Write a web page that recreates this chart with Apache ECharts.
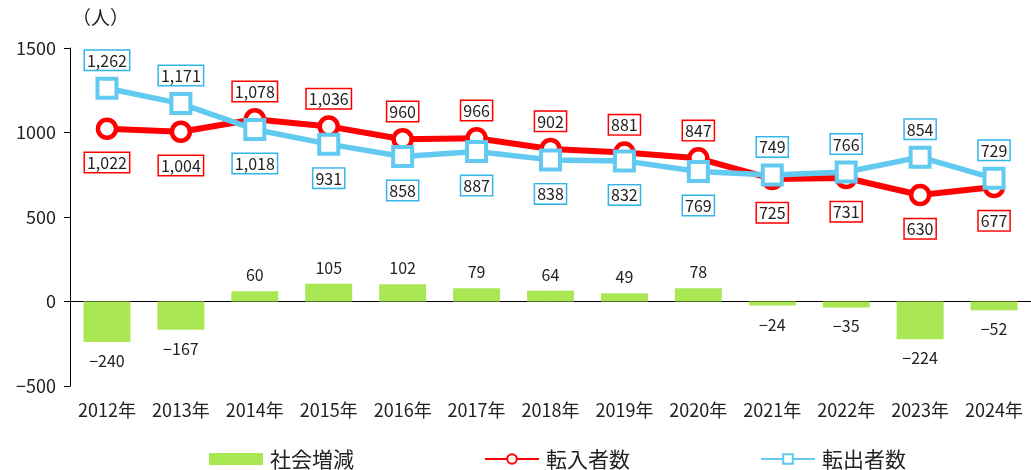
<!DOCTYPE html>
<html style="height: 100%">
<head>
    <meta charset="UTF-8">
    <title>社会増減・転入者数・転出者数</title>
    <script src="https://cdn.jsdelivr.net/npm/echarts/dist/echarts.min.js"></script>
    <style>
        #main { width: 1031px; height: 470px; }
    </style>
</head>
<body style="margin: 0; background: #fff">
    <div id="main"></div>
    <script type="text/javascript">
        var years = ['2012年', '2013年', '2014年', '2015年', '2016年', '2017年', '2018年',
                     '2019年', '2020年', '2021年', '2022年', '2023年', '2024年'];
        var socialChange = [-240, -167, 60, 105, 102, 79, 64, 49, 78, -24, -35, -224, -52];
        var movedIn = [1022, 1004, 1078, 1036, 960, 966, 902, 881, 847, 725, 731, 630, 677];
        var movedOut = [1262, 1171, 1018, 931, 858, 887, 838, 832, 769, 749, 766, 854, 729];

        var FONT = '"Noto Sans CJK JP", "Noto Sans", sans-serif';
        var RED = '#ff0000';
        var BLUE = '#62caf0';
        var GREEN = '#a9e854';

        function fmt(v) {
            return String(v.toLocaleString('en-US')).replace('-', '−');
        }

        // 上下どちらにラベルを置くかは、もう一方の系列との大小で決める
        function lineData(values, other) {
            return values.map(function (v, i) {
                var top = v > other[i];
                return {
                    value: v,
                    label: { position: top ? 'top' : 'bottom', distance: top ? 7 : 13 }
                };
            });
        }

        function boxLabel(color) {
            return {
                show: true,
                formatter: function (p) { return fmt(p.value); },
                color: '#222',
                fontSize: 16,
                fontFamily: FONT,
                backgroundColor: '#fff',
                borderColor: color,
                borderWidth: 1.5,
                padding: [2, 2, 1, 2]
            };
        }

        var chartDom = document.getElementById('main');
        var myChart = echarts.init(chartDom);

        var option = {
            animation: false,
            textStyle: { fontFamily: FONT },
            grid: { left: 70, right: 0, top: 48, bottom: 84 },
            graphic: [{
                type: 'text', left: 72, top: 8,
                style: { text: '（人）', fontSize: 19, fontFamily: FONT, fill: '#222' }
            }],
            legend: {
                top: 448,
                left: 209,
                itemGap: 130,
                itemWidth: 54,
                itemHeight: 12,
                padding: 0,
                textStyle: {
                    fontSize: 21, lineHeight: 22, color: '#222', fontFamily: FONT,
                    padding: [0, 0, 0, 2]
                },
                data: [
                    { name: '社会増減', icon: 'rect' },
                    { name: '転入者数' },
                    { name: '転出者数' }
                ]
            },
            xAxis: [{
                type: 'category',
                data: years,
                position: 'bottom',
                axisLine: { show: false, onZero: false },
                axisTick: { show: false },
                axisLabel: { interval: 0, fontSize: 18, color: '#222', margin: 15 }
            }, {
                type: 'category',
                data: years,
                axisLine: { onZero: true, lineStyle: { color: '#000', width: 1 } },
                axisTick: { inside: true, length: 6, lineStyle: { color: '#000' } },
                axisLabel: { show: false }
            }],
            yAxis: {
                type: 'value',
                min: -500,
                max: 1500,
                interval: 500,
                axisLine: { show: true, lineStyle: { color: '#000' } },
                axisTick: { show: true, length: 6, lineStyle: { color: '#000' } },
                splitLine: { show: false },
                axisLabel: {
                    fontSize: 18, color: '#222', margin: 14,
                    formatter: function (v) { return String(v).replace('-', '−'); }
                }
            },
            series: [{
                name: '社会増減',
                type: 'bar',
                xAxisIndex: 0,
                barWidth: 47,
                itemStyle: { color: GREEN },
                label: {
                    show: true,
                    position: 'top',
                    distance: 8,
                    fontSize: 16,
                    color: '#222',
                    formatter: function (p) { return fmt(p.value); }
                },
                data: socialChange.map(function (v) {
                    return v < 0 ? { value: v, label: { position: 'bottom', distance: 11 } } : v;
                })
            }, {
                name: '転入者数',
                type: 'line',
                xAxisIndex: 0,
                symbol: 'circle',
                symbolSize: 18,
                lineStyle: { color: RED, width: 6 },
                itemStyle: { color: '#fff', borderColor: RED, borderWidth: 4.5 },
                label: boxLabel(RED),
                z: 3,
                data: lineData(movedIn, movedOut)
            }, {
                name: '転出者数',
                type: 'line',
                xAxisIndex: 0,
                symbol: 'rect',
                symbolSize: 19,
                lineStyle: { color: BLUE, width: 5.5 },
                itemStyle: { color: '#fff', borderColor: BLUE, borderWidth: 4 },
                label: boxLabel('#33b5e8'),
                z: 4,
                data: lineData(movedOut, movedIn)
            }]
        };

        myChart.setOption(option);
    </script>
</body>
</html>
